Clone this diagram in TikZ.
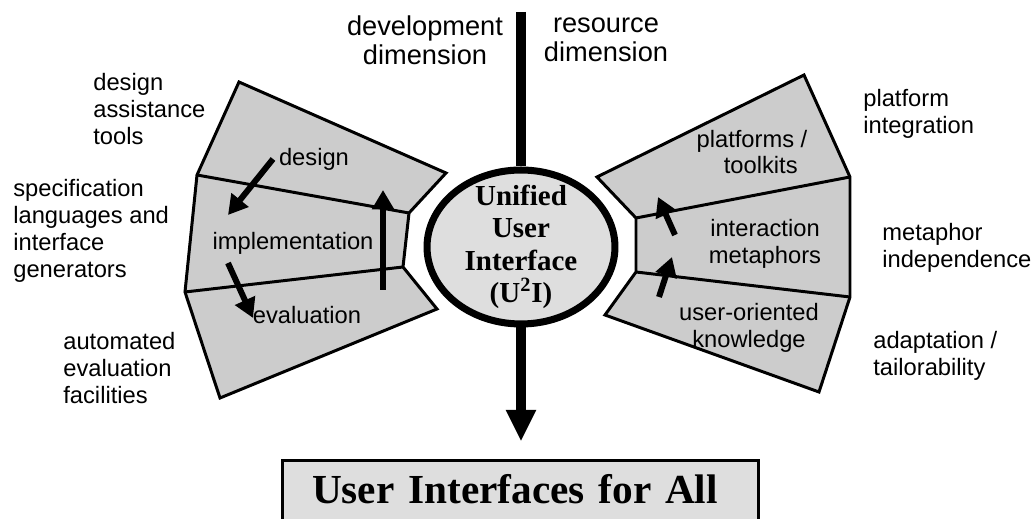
\documentclass[tikz,border=0pt]{standalone}
\usepackage{fontspec}
\setmainfont{Liberation Serif}
\setsansfont{Liberation Sans}
\usetikzlibrary{arrows.meta,shapes.geometric}

\definecolor{fangray}{gray}{0.8}
\definecolor{hubgray}{gray}{0.87}

\tikzset{
  fan/.style={draw=black, fill=fangray, line width=1.7pt},
  fanline/.style={draw=black, line width=1.7pt},
  part/.style={font=\sffamily\fontsize{13.5}{15.3}\selectfont, align=center, inner sep=0pt},
  side/.style={font=\sffamily\fontsize{13.5}{15.3}\selectfont, align=left, inner sep=0pt, anchor=west},
  dim/.style={font=\sffamily\fontsize{15.5}{16.5}\selectfont, align=center, inner sep=0pt},
  flow/.style={line width=3.4pt, -{Triangle[length=11pt,width=12pt]}},
  bar/.style={line width=6.2pt},
  hub/.style={ellipse, draw=black, fill=hubgray, line width=4pt, minimum width=3.76cm, minimum height=3.08cm, inner sep=0pt},
  hubtext/.style={font=\bfseries\fontsize{16.5}{18.5}\selectfont, align=center, inner sep=0pt},
  goalbox/.style={draw=black, fill=hubgray, line width=1.7pt, anchor=north, align=left,
    text width=8.34cm, inner xsep=0.59cm, inner ysep=0pt, text height=0.85cm, text depth=1.2cm,
    font=\bfseries\fontsize{23.5}{26}\selectfont},
}

\begin{document}
\begin{tikzpicture}[x=0.02cm, y=-0.02cm]
    \useasboundingbox (0,0) rectangle (1036,519);
    % development fan (left)
    \draw[fan] (239,82) -- (197,175) -- (185,292) -- (220,398) -- (437,309)
        -- (403,267) -- (409,213) -- (446,173) -- cycle;
    \draw[fanline] (197,175) -- (409,213) (185,292) -- (403,267);
    % resource fan (right)
    \draw[fan] (804,75) -- (850,177) -- (850,297) -- (819,392) -- (605,315)
        -- (636,272) -- (636,218) -- (597,177) -- cycle;
    \draw[fanline] (636,218) -- (850,177) (636,272) -- (850,297);

    % fan parts
    \node[part] (design) at (314,159) {design};
    \node[part] (impl) at (293,243) {implementation};
    \node[part] (eval) at (307,315) {evaluation};
    \node[part] (platf) at (752,152) {platforms /\\\hspace*{0.35cm}toolkits};
    \node[part] (metaph) at (765,244) {interaction\\metaphors};
    \node[part] (userk) at (749,328) {user-oriented\\knowledge};

    % arrows inside the fans
    \coordinate (d1) at (273,159); \coordinate (d2) at (228,215);
    \coordinate (e1) at (228,263); \coordinate (e2) at (253,318);
    \coordinate (v1) at (383,290); \coordinate (v2) at (383,190);
    \coordinate (r1) at (675,235); \coordinate (r2) at (658,197);
    \coordinate (s1) at (659,297); \coordinate (s2) at (672,257);
    \draw[flow] (d1) -- (d2);
    \draw[flow] (e1) -- (e2);
    \draw[flow] (v1) -- (v2);
    \draw[flow] (r1) -- (r2);
    \draw[flow] (s1) -- (s2);

    % side labels
    \node[side] (assist) at (93,109) {design\\assistance\\tools};
    \node[side] (spec) at (13,231) {specification\\languages and\\interface\\generators};
    \node[side] (autoeval) at (63,368) {automated\\evaluation\\facilities};
    \node[side] (integ) at (863,114) {platform\\integration};
    \node[side] (indep) at (882,248) {metaphor\\independence};
    \node[side] (adapt) at (873,356) {adaptation /\\tailorability};

    % dimensions
    \node[dim] (devdim) at (425,40) {development\\dimension};
    \node[dim] (resdim) at (606,40) {resource\\dimension};

    % unified user interface and its goal
    \coordinate (bartop) at (521,12);
    \node[hub] (u2i) at (521,247) {};
    \node[hubtext] (u2itext) at (u2i.center) {Unified\\User\\Interface\\(U\textsuperscript{2}I)};
    \node[goalbox] (goal) at (520.5,459.5) {User Interfaces for All};
    \draw[bar] (bartop) -- (u2i.north);
    \draw[bar, -{Triangle[length=18pt,width=16pt]}, shorten >=0.36cm] (u2i.south) -- (u2i.south |- goal.north);
\end{tikzpicture}
\end{document}
